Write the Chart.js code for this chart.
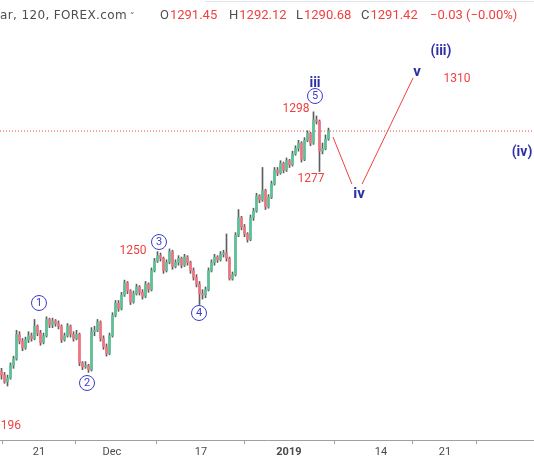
<!DOCTYPE html>
<html>
<head>
<meta charset="utf-8">
<script src="https://cdn.jsdelivr.net/npm/chart.js@4.4.1/dist/chart.umd.min.js"></script>
<style>
  html, body { margin: 0; padding: 0; background: #fff; }
  #wrap { width: 534px; height: 462px; position: relative; }
</style>
</head>
<body>
<div id="wrap"><canvas id="goldChart"></canvas></div>
<script>
/* ---- XAUUSD 120 min candles ---- */
const opens = [
  1203.0, 1201.5, 1199.0, 1200.5, 1205.0, 1207.5, 1216.5, 1214.0, 1211.5, 1214.5,
  1216.0, 1215.0, 1219.5, 1217.0, 1213.5, 1216.0, 1222.0, 1220.0, 1221.5, 1220.5,
  1219.5, 1214.5, 1216.0, 1219.5, 1216.5, 1215.0, 1216.5, 1206.0, 1204.5, 1205.0,
  1203.5, 1217.5, 1218.0, 1221.0, 1215.0, 1212.0, 1209.5, 1216.0, 1223.5, 1228.0,
  1226.0, 1231.0, 1235.5, 1232.5, 1228.5, 1231.5, 1234.0, 1232.0, 1230.5, 1235.0,
  1233.0, 1240.0, 1243.5, 1245.5, 1244.5, 1240.0, 1243.0, 1247.0, 1241.5, 1243.0,
  1244.5, 1242.0, 1245.0, 1243.0, 1240.0, 1237.5, 1235.0, 1231.5, 1231.0, 1233.0,
  1240.0, 1243.0, 1245.0, 1244.0, 1246.0, 1246.5, 1244.5, 1237.0, 1238.5, 1253.0,
  1259.5, 1256.0, 1253.5, 1251.5, 1259.5, 1262.0, 1267.5, 1266.0, 1269.5, 1263.5,
  1267.0, 1272.0, 1277.0, 1276.0, 1279.5, 1277.0, 1280.5, 1279.0, 1283.0, 1285.0,
  1287.0, 1281.0, 1288.0, 1290.5, 1287.0, 1295.5, 1295.0, 1284.0, 1285.0, 1288.5
];
const highs = [
  1204.0, 1202.5, 1201.5, 1206.0, 1208.5, 1218.0, 1217.5, 1215.0, 1215.5, 1217.5,
  1217.0, 1222.0, 1220.0, 1218.0, 1217.0, 1223.0, 1222.5, 1222.5, 1222.0, 1221.5,
  1220.0, 1217.0, 1220.5, 1220.0, 1217.5, 1218.0, 1217.0, 1206.5, 1206.5, 1205.5,
  1219.0, 1219.5, 1222.0, 1221.5, 1216.0, 1213.0, 1217.0, 1224.5, 1229.0, 1229.0,
  1232.0, 1236.5, 1236.0, 1233.0, 1232.5, 1235.0, 1234.5, 1233.0, 1236.0, 1235.5,
  1241.0, 1244.5, 1247.0, 1246.5, 1245.0, 1244.0, 1248.0, 1247.5, 1244.0, 1245.5,
  1245.0, 1246.0, 1245.5, 1243.5, 1241.0, 1238.5, 1236.0, 1233.0, 1234.0, 1241.0,
  1244.0, 1246.0, 1245.5, 1247.0, 1247.5, 1253.5, 1245.0, 1239.5, 1254.0, 1262.5,
  1260.0, 1257.0, 1254.0, 1260.5, 1263.0, 1268.5, 1268.0, 1278.0, 1270.0, 1268.0,
  1273.0, 1278.0, 1278.0, 1280.5, 1280.0, 1281.5, 1281.0, 1284.0, 1286.0, 1288.0,
  1287.5, 1289.0, 1291.5, 1291.0, 1298.5, 1297.0, 1295.5, 1287.0, 1290.0, 1292.5
];
const lows = [
  1200.0, 1198.5, 1197.5, 1200.0, 1204.0, 1207.0, 1213.0, 1210.5, 1211.0, 1213.5,
  1214.0, 1214.5, 1216.0, 1212.5, 1213.0, 1215.5, 1219.0, 1219.0, 1219.5, 1218.5,
  1213.5, 1214.0, 1215.5, 1215.5, 1214.0, 1214.5, 1205.0, 1203.5, 1204.0, 1202.5,
  1203.0, 1216.0, 1217.5, 1214.0, 1211.0, 1208.5, 1209.0, 1215.5, 1223.0, 1225.0,
  1225.5, 1230.5, 1231.5, 1227.5, 1228.0, 1231.0, 1231.0, 1229.5, 1230.0, 1232.0,
  1232.5, 1239.5, 1243.0, 1243.5, 1239.0, 1239.5, 1242.5, 1240.5, 1241.0, 1242.0,
  1241.0, 1241.5, 1242.0, 1239.0, 1236.5, 1234.0, 1227.5, 1229.5, 1230.0, 1232.5,
  1239.5, 1242.0, 1243.0, 1243.5, 1245.0, 1243.5, 1236.5, 1236.5, 1238.0, 1252.5,
  1255.0, 1252.5, 1250.5, 1251.0, 1258.5, 1261.5, 1265.0, 1265.5, 1262.5, 1263.0,
  1266.5, 1271.5, 1275.0, 1275.5, 1276.0, 1276.5, 1278.0, 1278.5, 1282.5, 1284.0,
  1280.0, 1280.5, 1287.5, 1286.0, 1286.5, 1294.0, 1276.5, 1283.0, 1284.5, 1288.0
];
const closes = [
  1201.5, 1199.0, 1200.5, 1205.0, 1207.5, 1216.5, 1214.0, 1211.5, 1214.5, 1216.0,
  1215.0, 1219.5, 1217.0, 1213.5, 1216.0, 1222.0, 1220.0, 1221.5, 1220.5, 1219.5,
  1214.5, 1216.0, 1219.5, 1216.5, 1215.0, 1216.5, 1206.0, 1204.5, 1205.0, 1203.5,
  1217.5, 1218.0, 1221.0, 1215.0, 1212.0, 1209.5, 1216.0, 1223.5, 1228.0, 1226.0,
  1231.0, 1235.5, 1232.5, 1228.5, 1231.5, 1234.0, 1232.0, 1230.5, 1235.0, 1233.0,
  1240.0, 1243.5, 1245.5, 1244.5, 1240.0, 1243.0, 1247.0, 1241.5, 1243.0, 1244.5,
  1242.0, 1245.0, 1243.0, 1240.0, 1237.5, 1235.0, 1231.5, 1231.0, 1233.0, 1240.0,
  1243.0, 1245.0, 1244.0, 1246.0, 1246.5, 1244.5, 1237.0, 1238.5, 1253.0, 1259.5,
  1256.0, 1253.5, 1251.5, 1259.5, 1262.0, 1267.5, 1266.0, 1269.5, 1263.5, 1267.0,
  1272.0, 1277.0, 1276.0, 1279.5, 1277.0, 1280.5, 1279.0, 1283.0, 1285.0, 1287.0,
  1281.0, 1288.0, 1290.5, 1287.0, 1295.5, 1295.0, 1284.0, 1285.0, 1288.5, 1291.42
];

const lastPrice = 1291.42;

// projected wave iv / v path (bar index, price)
const projX = [110.5, 116.8, 120.2, 137.2];
const projY = [1289.2, 1271.9, 1271.9, 1311.0];

// date axis
const tickPos = [12.5, 36.8, 66.5, 95.8, 126.5, 147.8];
const tickLabels = ['21', 'Dec', '17', '2019', '14', '21'];

/* ---- colours ---- */
const upColor = '#5cc196';
const downColor = '#f07480';
const wickColor = '#5e5e5e';
const priceRed = '#f0413f';
const waveBlue = '#2f2fa6';
const circleBlue = '#3b3bd0';

const bodyColors = opens.map((o, i) => closes[i] >= o ? upColor : downColor);

/* ---- wave labels, drawn over the chart ---- */
const waveTexts = [
  { text: 'iii', x: 315, y: 83, color: waveBlue, font: 'bold 14px Roboto' },
  { text: 'iv', x: 359, y: 194, color: waveBlue, font: 'bold 15px Roboto' },
  { text: 'v', x: 417, y: 72, color: waveBlue, font: 'bold 15px Roboto' },
  { text: '(iii)', x: 441, y: 51, color: waveBlue, font: 'bold 14px Roboto' },
  { text: '(iv)', x: 522, y: 152, color: waveBlue, font: 'bold 14px Roboto' },
  { text: '1298', x: 296, y: 109, color: priceRed, font: '12px Roboto' },
  { text: '1277', x: 311, y: 179, color: priceRed, font: '12px Roboto' },
  { text: '1310', x: 457, y: 79, color: priceRed, font: '12px Roboto' },
  { text: '1250', x: 133, y: 251, color: priceRed, font: '12px Roboto' }
];
const circled = [
  { n: '1', x: 39, y: 303 },
  { n: '2', x: 87, y: 383 },
  { n: '3', x: 159, y: 242 },
  { n: '4', x: 199, y: 313 },
  { n: '5', x: 315, y: 96 }
];

const overlayPlugin = {
  id: 'overlay',
  afterDraw(chart) {
    const ctx = chart.ctx;
    ctx.save();

    // header strip
    ctx.strokeStyle = '#e3e5ea';
    ctx.lineWidth = 1;
    ctx.beginPath();
    ctx.moveTo(205, 1.5);
    ctx.lineTo(534, 1.5);
    ctx.stroke();

    // symbol title: only its tail fits in the window, so stretch the tail to 0..127 px
    const hidden = 'Gold Spot / U.S. Doll';
    const shown = 'ar, 120, FOREX.com';
    ctx.textBaseline = 'middle';
    ctx.textAlign = 'left';
    ctx.font = '12px "DejaVu Sans"';
    const spacing = (127 - ctx.measureText(shown).width) / shown.length;
    ctx.letterSpacing = spacing.toFixed(2) + 'px';
    const skip = ctx.measureText(hidden).width;
    ctx.fillStyle = '#4e4e4e';
    ctx.fillText(hidden + shown, -skip, 16);
    ctx.letterSpacing = '0px';
    ctx.font = '9px "DejaVu Sans"';
    ctx.fillText('\u02C5', 130, 17);

    const ohlc = [
      ['O', '1291.45', 160], ['H', '1292.12', 229],
      ['L', '1290.68', 296], ['C', '1291.42', 361]
    ];
    ctx.font = '13px Roboto';
    ohlc.forEach(([k, v, x]) => {
      ctx.fillStyle = '#4e4e4e';
      ctx.fillText(k, x, 16);
      ctx.fillStyle = priceRed;
      ctx.fillText(v, x + ctx.measureText(k).width + 1, 16);
    });
    ctx.fillStyle = priceRed;
    ctx.fillText('\u22120.03 (\u22120.00%)', 430, 16);

    // bottom-left start label
    ctx.textAlign = 'right';
    ctx.font = '12px Roboto';
    ctx.fillText('1196', 21, 426);

    // wave labels
    ctx.textAlign = 'center';
    waveTexts.forEach(t => {
      ctx.font = t.font;
      ctx.fillStyle = t.color;
      ctx.fillText(t.text, t.x, t.y);
    });

    circled.forEach(c => {
      ctx.beginPath();
      ctx.arc(c.x, c.y, 7.5, 0, Math.PI * 2);
      ctx.fillStyle = '#fff';
      ctx.fill();
      ctx.strokeStyle = circleBlue;
      ctx.lineWidth = 1;
      ctx.stroke();
      ctx.font = '11px Roboto';
      ctx.fillStyle = circleBlue;
      ctx.fillText(c.n, c.x, c.y + 0.5);
    });

    ctx.restore();
  }
};

new Chart(document.getElementById('goldChart'), {
  data: {
    datasets: [
      {
        type: 'line',
        label: 'last',
        data: [{ x: -0.5, y: lastPrice }, { x: 177.5, y: lastPrice }],
        borderColor: priceRed,
        borderWidth: 1,
        borderDash: [1, 2],
        pointRadius: 0,
        order: 3
      },
      {
        type: 'bar',
        label: 'wick',
        data: opens.map((_, i) => ({ x: i, y: [lows[i], highs[i]] })),
        backgroundColor: wickColor,
        barThickness: 1,
        grouped: false,
        order: 2
      },
      {
        type: 'bar',
        label: 'body',
        data: opens.map((o, i) => ({ x: i, y: [o, closes[i]] })),
        backgroundColor: bodyColors,
        barThickness: 2,
        minBarLength: 1,
        grouped: false,
        order: 1
      },
      {
        type: 'line',
        label: 'wave iv',
        data: [{ x: projX[0], y: projY[0] }, { x: projX[1], y: projY[1] }],
        borderColor: priceRed,
        borderWidth: 1,
        pointRadius: 0,
        order: 0
      },
      {
        type: 'line',
        label: 'wave v',
        data: [{ x: projX[2], y: projY[2] }, { x: projX[3], y: projY[3] }],
        borderColor: priceRed,
        borderWidth: 1,
        pointRadius: 0,
        order: 0
      }
    ]
  },
  options: {
    responsive: true,
    maintainAspectRatio: false,
    animation: false,
    events: [],
    layout: { padding: 0 },
    plugins: {
      legend: { display: false },
      tooltip: { enabled: false }
    },
    scales: {
      x: {
        type: 'linear',
        min: -0.5,
        max: 177.5,
        offset: false,
        afterBuildTicks: s => { s.ticks = tickPos.map(v => ({ value: v })); },
        afterFit: s => { s.height = 22; },
        ticks: {
          autoSkip: false,
          maxRotation: 0,
          padding: 2,
          color: '#4a4a4a',
          font: c => ({ family: 'Roboto', size: 11, weight: c.index === 3 ? 'bold' : 'normal' }),
          callback: (v, i) => tickLabels[i]
        },
        grid: {
          display: true,
          drawOnChartArea: false,
          drawTicks: true,
          tickLength: 4,
          tickColor: '#a0a0a0'
        },
        border: { display: true, color: '#a0a0a0', width: 1 }
      },
      y: {
        display: false,
        min: 1177.6,
        max: 1339.7
      }
    }
  },
  plugins: [overlayPlugin]
});
</script>
</body>
</html>
